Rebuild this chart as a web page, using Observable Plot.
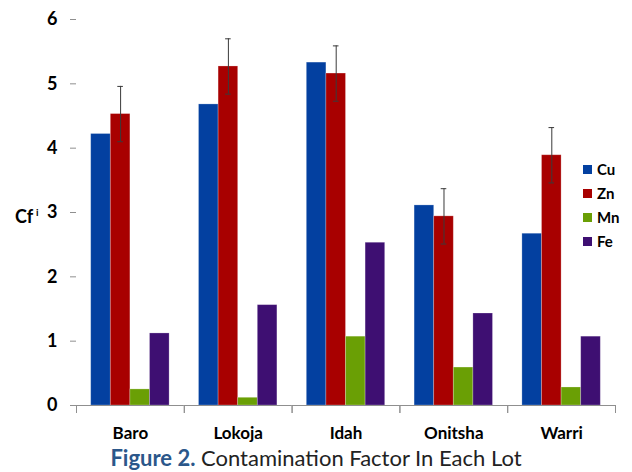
<!DOCTYPE html>
<html>
<head>
<meta charset="utf-8">
<script src="https://cdn.jsdelivr.net/npm/d3@7"></script>
<script src="https://cdn.jsdelivr.net/npm/@observablehq/plot@0.6"></script>
<style>
  html, body { margin: 0; padding: 0; background: #fff; }
  #wrap { position: relative; width: 632px; height: 472px; font-family: Lato, "Open Sans", sans-serif; }
  #ylab { position: absolute; left: 15px; top: 202px; font-size: 18px; font-weight: bold; color: #000; line-height: 20px; }
  #ylab sup { font-size: 10px; vertical-align: 7px; margin-left: 3px; }
  #legend { position: absolute; left: 583px; top: 157px; font-size: 15px; font-weight: bold; color: #000; }
  #legend div { display: flex; align-items: center; height: 24px; }
  #legend span.sw { display: inline-block; width: 9px; height: 9px; margin-right: 5px; }
  #caption { position: absolute; left: 0; top: 444px; width: 632px; text-align: center; font-size: 22px; line-height: 28px; color: #222; }
  #caption b { color: #2b578a; }
</style>
</head>
<body>
<div id="wrap">
  <div id="chart"></div>
  <div id="ylab">Cf<sup>i</sup></div>
  <div id="legend"></div>
  <div id="caption"><b>Figure 2.</b> Contamination Factor In Each Lot</div>
</div>
<script>
const sites = ["Baro", "Lokoja", "Idah", "Onitsha", "Warri"];
const metals = ["Cu", "Zn", "Mn", "Fe"];
const cu = [4.22, 4.68, 5.33, 3.11, 2.67];
const zn = [4.53, 5.27, 5.16, 2.94, 3.89];
const mn = [0.25, 0.12, 1.07, 0.59, 0.28];
const fe = [1.12, 1.56, 2.53, 1.43, 1.07];
const znErr = [0.43, 0.43, 0.43, 0.43, 0.43];
const yTicks = [0, 1, 2, 3, 4, 5, 6];
const colors = ["#0340a0", "#a80000", "#6a9f05", "#3e0f72"];

const series = {Cu: cu, Zn: zn, Mn: mn, Fe: fe};
const rows = [];
sites.forEach((s, i) => metals.forEach(m => rows.push({site: s, metal: m, value: series[m][i]})));
const errRows = sites.map((s, i) => ({site: s, metal: "Zn", lo: zn[i] - znErr[i], hi: zn[i] + znErr[i]}));

const chart = Plot.plot({
  width: 632,
  height: 445,
  marginLeft: 76,
  marginRight: 17,
  marginTop: 19,
  marginBottom: 40,
  style: {fontFamily: "Lato, 'Open Sans', sans-serif", color: "#000", background: "#fff"},
  fx: {domain: sites, padding: 0, round: false, label: null},
  x: {domain: metals, paddingInner: 0, paddingOuter: 0.75, round: false, axis: null},
  y: {domain: [0, 6], label: null},
  color: {domain: metals, range: colors},
  marks: [
    Plot.barY(rows, {fx: "site", x: "metal", y: "value", fill: "metal", stroke: "#ffffff", strokeOpacity: 0.3, strokeWidth: 0.8}),
    Plot.ruleX(errRows, {fx: "site", x: "metal", y1: "lo", y2: "hi", stroke: "#3a3a3a", strokeWidth: 1}),
    Plot.tickY(errRows, {fx: "site", x: "metal", y: "hi", stroke: "#3a3a3a", insetLeft: 7, insetRight: 7}),
    Plot.tickY(errRows, {fx: "site", x: "metal", y: "lo", stroke: "#3a3a3a", insetLeft: 7, insetRight: 7}),
    Plot.ruleY([0], {stroke: "#8f8f8f"}),
    Plot.frame({anchor: "left", stroke: "#8f8f8f", insetTop: 386, insetBottom: -7}),
    Plot.frame({anchor: "right", stroke: "#8f8f8f", insetTop: 386, insetBottom: -7}),
    Plot.axisY({ticks: yTicks, tickFormat: d => String(d), tickSize: 6, tickPadding: 13, line: true, stroke: "#8f8f8f", fill: "#000", fontSize: 18, fontWeight: "bold", label: null}),
    Plot.axisFx({anchor: "bottom", tickSize: 0, tickPadding: 21, fontSize: 17, fontWeight: "bold", fill: "#000", label: null})
  ]
});
document.getElementById("chart").appendChild(chart);

const legend = document.getElementById("legend");
metals.forEach((m, i) => {
  const row = document.createElement("div");
  row.innerHTML = `<span class="sw" style="background:${colors[i]}"></span>${m}`;
  legend.appendChild(row);
});
</script>
</body>
</html>
